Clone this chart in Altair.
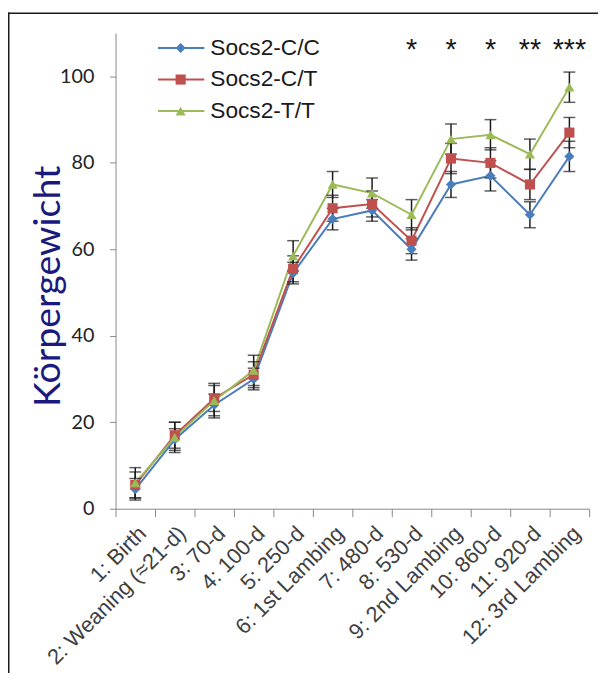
import altair as alt
import pandas as pd

categories = ["1: Birth", "2: Weaning (\u224821-d)", "3: 70-d", "4: 100-d", "5: 250-d",
              "6: 1st Lambing", "7: 480-d", "8: 530-d", "9: 2nd Lambing", "10: 860-d",
              "11: 920-d", "12: 3rd Lambing"]
series_names = ["Socs2-C/C", "Socs2-C/T", "Socs2-T/T"]
cc = [4.5, 16, 24, 30, 54.5, 67, 69, 60, 75, 77, 68, 81.5]
ct = [5.5, 17, 25.5, 31, 55.5, 69.5, 70.5, 62, 81, 80, 75, 87]
tt = [6, 16.5, 25, 32, 58.5, 75, 73, 68, 85.5, 86.5, 82, 97.5]
cc_err = [2.5, 2.5, 2.5, 2.5, 2.5, 2.5, 2.5, 2.5, 3, 3.5, 3, 3.5]
ct_err = [3, 3, 3, 3, 3, 3, 3, 3, 3.5, 3.5, 3.5, 3.5]
tt_err = [3.5, 3.5, 4, 3.5, 3.5, 3, 3.5, 3.5, 3.5, 3.5, 3.5, 3.5]
stars = ["", "", "", "", "", "", "", "*", "*", "*", "**", "***"]
colors = ["#4A7EBB", "#C0504D", "#9BBB59"]
shapes = ["diamond", "square", "triangle-up"]

rows = []
for s, vals, errs in zip(series_names, [cc, ct, tt], [cc_err, ct_err, tt_err]):
    for c, v, e in zip(categories, vals, errs):
        rows.append({"cat": c, "series": s, "value": v, "lo": v - e, "hi": v + e})
df = pd.DataFrame(rows)
star_df = pd.DataFrame({"cat": categories, "star": stars})
star_df = star_df[star_df["star"] != ""]
leg_df = pd.DataFrame({"series": series_names})

color_scale = alt.Scale(domain=series_names, range=colors)
shape_scale = alt.Scale(domain=series_names, range=shapes)

x_axis = alt.Axis(title=None, labelAngle=-45, labelAlign="right", labelBaseline="top",
                  labelFont="Liberation Sans", labelFontSize=22, labelColor="#404040",
                  tickBand="extent", tickSize=8, tickColor="#888888", domainColor="#888888",
                  labelPadding=6, labelLimit=400, grid=False)
x_enc = alt.X("cat:N", sort=categories,
              scale=alt.Scale(type="band", paddingInner=0, paddingOuter=0), axis=x_axis)
y_axis = alt.Axis(values=[0, 20, 40, 60, 80, 100], title="K\u00f6rpergewicht",
                  titleFont="Lato", titleFontSize=38, titleFontWeight="normal",
                  titleColor="#1a1a7e", titleX=-57, titleY=256, titleBaseline="alphabetic",
                  labelFont="Lato", labelFontSize=20, labelColor="#222222",
                  tickSize=6, tickColor="#888888", domainColor="#888888",
                  labelPadding=16, grid=False)
y_scale = alt.Scale(domain=[0, 110], nice=False)

base = alt.Chart(df)
lines = base.mark_line(strokeWidth=2).encode(
    x=x_enc, y=alt.Y("value:Q", scale=y_scale, axis=y_axis),
    color=alt.Color("series:N", scale=color_scale, legend=None),
    detail="series:N")
err = base.mark_rule(color="#1a1a1a", strokeWidth=1.5).encode(
    x=x_enc, y=alt.Y("lo:Q", scale=y_scale, axis=y_axis), y2="hi:Q")
cap_lo = base.mark_tick(color="#1a1a1a", thickness=1.5, size=12).encode(
    x=x_enc, y=alt.Y("lo:Q", scale=y_scale, axis=y_axis))
cap_hi = base.mark_tick(color="#1a1a1a", thickness=1.5, size=12).encode(
    x=x_enc, y=alt.Y("hi:Q", scale=y_scale, axis=y_axis))
points = base.mark_point(filled=True, opacity=1, size=105).encode(
    x=x_enc, y=alt.Y("value:Q", scale=y_scale, axis=y_axis),
    color=alt.Color("series:N", scale=color_scale, legend=None),
    shape=alt.Shape("series:N", scale=shape_scale, legend=None))
star_txt = alt.Chart(star_df).mark_text(font="Liberation Sans", fontSize=29, color="#1a1a1a",
                                        baseline="alphabetic").encode(
    x=x_enc, y=alt.value(26.5), text="star:N")

one = alt.Chart(pd.DataFrame({"a": [0]}))
frame_top = one.mark_rule(color="#1a1a1a", strokeWidth=1.5).encode(
    x=alt.value(-109), x2=alt.value(489), y=alt.value(-20.25))
frame_left = one.mark_rule(color="#1a1a1a", strokeWidth=1.5).encode(
    x=alt.value(-108.25), y=alt.value(-21), y2=alt.value(660))

main = alt.layer(lines, err, cap_lo, cap_hi, points, star_txt, frame_top, frame_left)

leg_y = alt.Y("series:N", sort=series_names,
              scale=alt.Scale(type="point", range=[15, 79], padding=0), axis=None)
leg_base = alt.Chart(leg_df)
leg_rule = leg_base.mark_rule(strokeWidth=2).encode(
    x=alt.value(43), x2=alt.value(90), y=leg_y,
    color=alt.Color("series:N", scale=color_scale, legend=None))
leg_pt = leg_base.mark_point(filled=True, opacity=1, size=105).encode(
    x=alt.value(66), y=leg_y,
    color=alt.Color("series:N", scale=color_scale, legend=None),
    shape=alt.Shape("series:N", scale=shape_scale, legend=None))
leg_txt = leg_base.mark_text(align="left", baseline="middle", font="Liberation Sans",
                             fontSize=23, color="#1a1a1a").encode(
    x=alt.value(96), y=leg_y, text="series:N")
legend = alt.layer(leg_rule, leg_pt, leg_txt)

chart = alt.layer(main, legend).resolve_scale(y="independent").properties(
    width=480, height=482,
    padding={"left": 109, "top": 21, "right": 9, "bottom": 162},
    autosize=alt.AutoSizeParams(type="none"),
    background="white"
).configure_view(stroke=None)

chart.save("out.html", embed_options={"renderer": "svg", "actions": False})
